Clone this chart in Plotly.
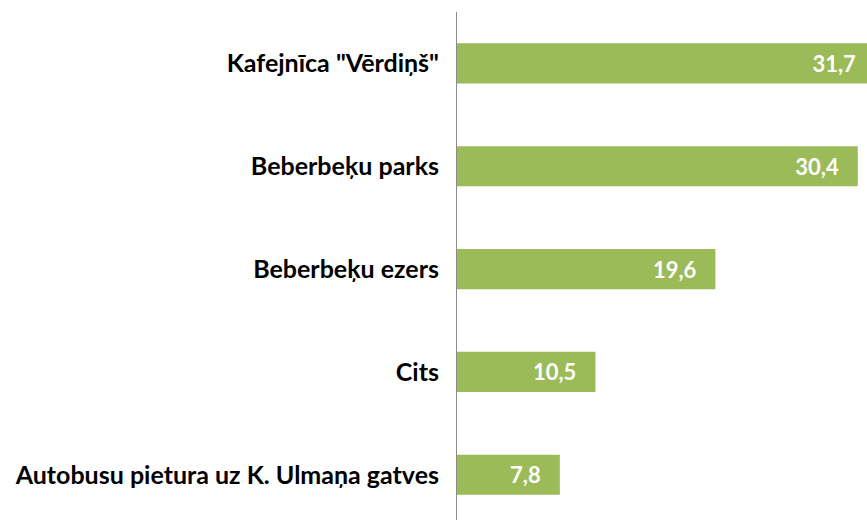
"""
plot.py
───────
Horizontal bar chart of visited places (%).
"""

from __future__ import annotations

import plotly.graph_objects as go


# ─── DATA ────────────────────────────────────────────────────────────────────

PLACES = [
    "Autobusu pietura uz K. Ulmaņa gatves",
    "Cits",
    "Beberbeķu ezers",
    "Beberbeķu parks",
    'Kafejnīca "Vērdiņš"',
]
SHARES = [7.8, 10.5, 19.6, 30.4, 31.7]

BAR_GREEN = "#9BBB59"
AXIS_GREY = "#8C8C8C"
FONT      = "Lato, 'Open Sans', sans-serif"
PAD       = "\u00a0\u00a0\u00a0"               # keeps labels off the bar end


# ─── CHART ───────────────────────────────────────────────────────────────────

def places_bar_chart() -> go.Figure:
    fig = go.Figure(go.Bar(
        x=SHARES, y=PLACES, orientation="h",
        marker=dict(color=BAR_GREEN, line_width=0),
        width=0.39,
        texttemplate="%{x:.1f}" + PAD,
        textposition="inside", insidetextanchor="end",
        textfont=dict(color="white", size=22, family=FONT, weight="bold"),
        cliponaxis=True, showlegend=False,
    ))
    fig.update_xaxes(range=[0, 31.1], visible=False, showgrid=False, zeroline=False)
    fig.update_yaxes(range=[-0.44, 4.5], showgrid=False, zeroline=False,
                     showline=True, linecolor=AXIS_GREY, linewidth=1,
                     ticks="", ticklabelstandoff=12,
                     tickfont=dict(color="black", size=25, family=FONT, weight="bold"))
    fig.update_layout(
        width=867, height=520,
        margin=dict(l=457, r=0, t=12, b=0),
        plot_bgcolor="white", paper_bgcolor="white",
        separators=", ",                        # decimal comma
        uniformtext=dict(mode="show", minsize=10),
    )
    return fig


fig = places_bar_chart()
fig.write_html("out.html", config={"displayModeBar": False},
               post_script="document.body.style.margin = '0';")
